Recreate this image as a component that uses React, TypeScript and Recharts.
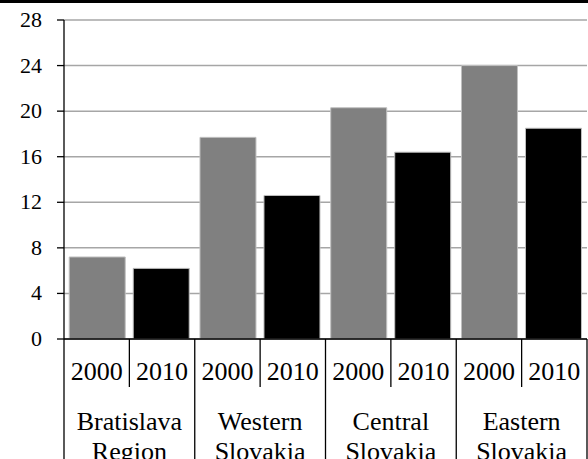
import { BarChart, Bar, XAxis, YAxis, CartesianGrid } from 'recharts';

const regions = ['Bratislava Region', 'Western Slovakia', 'Central Slovakia', 'Eastern Slovakia'];
const regionLines = [
  ['Bratislava', 'Region'],
  ['Western', 'Slovakia'],
  ['Central', 'Slovakia'],
  ['Eastern', 'Slovakia'],
];
const years = ['2000', '2010'];
const values2000 = [7.2, 17.7, 20.3, 24.0];
const values2010 = [6.2, 12.6, 16.4, 18.5];
const yTicks = [0, 4, 8, 12, 16, 20, 24, 28];

const W = 588;
const H = 459;
const Y_AXIS_W = 64;
const RIGHT = 1;
const BAND = (W - Y_AXIS_W - RIGHT) / regions.length;
const FONT = "'Liberation Serif', 'DejaVu Serif', serif";
const txt = { fontFamily: FONT, fontSize: 26, fill: '#000' };

const data = regions.map((r, i) => ({
  region: r,
  y2000: values2000[i],
  y2010: values2010[i],
}));

function RegionTick(props: any) {
  const { x, y, index } = props;
  const left = x - BAND / 2;
  const right = x + BAND / 2;
  const lines = regionLines[index] || [];
  return (
    <g>
      <line x1={left} y1={y} x2={left} y2={H} stroke="#000" strokeWidth={1.3} />
      {index === regions.length - 1 && (
        <line x1={right} y1={y} x2={right} y2={H} stroke="#000" strokeWidth={1.3} />
      )}
      <line x1={x} y1={y} x2={x} y2={y + 48} stroke="#000" strokeWidth={1.3} />
      <text x={x - BAND / 4} y={y + 41} textAnchor="middle" style={txt}>{years[0]}</text>
      <text x={x + BAND / 4} y={y + 41} textAnchor="middle" style={txt}>{years[1]}</text>
      {lines.map((l, k) => (
        <text key={k} x={x} y={y + 91 + k * 30} textAnchor="middle" style={txt}>{l}</text>
      ))}
    </g>
  );
}

function ValueTick(props: any) {
  const { x, y, payload } = props;
  return (
    <text x={x} y={y} dy={7} textAnchor="end" style={{ fontFamily: FONT, fontSize: 22, fill: '#000' }}>
      {payload.value}
    </text>
  );
}

export default function App() {
  return (
    <div style={{ position: 'absolute', left: 0, top: 0, width: W, height: H, background: '#fff', overflow: 'hidden' }}>
      <BarChart
        width={W}
        height={H}
        data={data}
        margin={{ top: 20, right: RIGHT, bottom: 0, left: 0 }}
        barCategoryGap="4%"
        barGap={8}
      >
        <CartesianGrid vertical={false} stroke="#a6a6a6" strokeWidth={1.5} />
        <YAxis
          width={Y_AXIS_W}
          domain={[0, 28]}
          ticks={yTicks}
          interval={0}
          axisLine={{ stroke: '#000', strokeWidth: 1.3 }}
          tickLine={{ stroke: '#000', strokeWidth: 1.3 }}
          tickSize={7}
          tickMargin={15}
          tick={<ValueTick />}
        />
        <XAxis
          dataKey="region"
          height={H - 339}
          interval={0}
          tickSize={0}
          tickMargin={0}
          tickLine={false}
          axisLine={{ stroke: '#000', strokeWidth: 1.3 }}
          tick={<RegionTick />}
        />
        <Bar dataKey="y2000" fill="#808080" stroke="#c0c0c0" strokeWidth={1} isAnimationActive={false} />
        <Bar dataKey="y2010" fill="#000000" stroke="#c0c0c0" strokeWidth={1} isAnimationActive={false} />
      </BarChart>
      <div style={{ position: 'absolute', left: 0, top: 0, width: W, height: 3, background: '#000' }} />
    </div>
  );
}
